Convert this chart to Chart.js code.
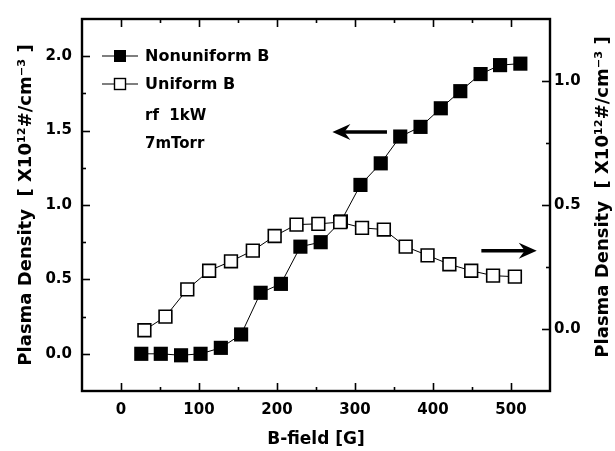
<!DOCTYPE html>
<html>
<head>
<meta charset="utf-8">
<script src="https://cdn.jsdelivr.net/npm/chart.js@4/dist/chart.umd.min.js"></script>
<style>
  html, body { margin: 0; padding: 0; background: #fff; }
</style>
</head>
<body>
<canvas id="density" width="615" height="451"></canvas>
<script>
// values
const bFieldNonuniform = [26, 51, 77, 102, 128, 154, 179, 205, 230, 256, 282, 307, 333, 358, 384, 410, 435, 461, 486, 512];
const densityNonuniform = [0.0, 0.0, -0.01, 0.0, 0.04, 0.13, 0.41, 0.47, 0.72, 0.75, 0.89, 1.135, 1.28, 1.46, 1.525, 1.65, 1.765, 1.88, 1.94, 1.95];
const bFieldUniform = [30, 57, 85, 113, 141, 169, 197, 225, 253, 281, 309, 337, 365, 393, 421, 449, 477, 505];
const densityUniform = [-0.005, 0.05, 0.16, 0.235, 0.273, 0.316, 0.375, 0.421, 0.424, 0.431, 0.408, 0.401, 0.332, 0.297, 0.261, 0.235, 0.215, 0.211];

const xTickLabels = [0, 100, 200, 300, 400, 500];
const leftTickLabels = [0.0, 0.5, 1.0, 1.5, 2.0];
const rightTickLabels = [0.0, 0.5, 1.0];

const seriesNames = ['Nonuniform B', 'Uniform B'];
const noteLines = ['rf  1kW', '7mTorr'];
const xTitle = 'B-field [G]';
const yTitle = 'Plasma Density  [ X10\u00B9\u00B2#/cm\u207B\u00B3 ]';

const FONT = '"DejaVu Sans", sans-serif';

const toPoints = (xs, ys) => xs.map((x, i) => ({ x: x, y: ys[i] }));
const near = (a, b) => Math.abs(a - b) < 1e-6;

// frame, inward ticks, legend, arrows and right title
const figurePlugin = {
  id: 'figure',
  afterDraw(chart) {
    const ctx = chart.ctx;
    const a = chart.chartArea;
    const sx = chart.scales.x, sy = chart.scales.y, sy2 = chart.scales.y2;
    ctx.save();
    ctx.strokeStyle = '#000';
    ctx.fillStyle = '#000';

    ctx.lineWidth = 1.6;
    sx.ticks.forEach(t => {
      if (t.value <= sx.min || t.value >= sx.max) return;
      const px = Math.round(sx.getPixelForValue(t.value)) + 0.5;
      const len = near(t.value % 100, 0) ? 8 : 4;
      ctx.beginPath();
      ctx.moveTo(px, a.bottom); ctx.lineTo(px, a.bottom - len);
      ctx.moveTo(px, a.top); ctx.lineTo(px, a.top + len);
      ctx.stroke();
    });
    sy.ticks.forEach(t => {
      if (t.value <= sy.min || t.value >= sy.max) return;
      const py = Math.round(sy.getPixelForValue(t.value)) + 0.5;
      const len = near(t.value * 2, Math.round(t.value * 2)) ? 8 : 4;
      ctx.beginPath();
      ctx.moveTo(a.left, py); ctx.lineTo(a.left + len, py);
      ctx.stroke();
    });
    sy2.ticks.forEach(t => {
      if (t.value <= sy2.min || t.value >= sy2.max) return;
      const py = Math.round(sy2.getPixelForValue(t.value)) + 0.5;
      const len = near(t.value * 2, Math.round(t.value * 2)) ? 8 : 4;
      ctx.beginPath();
      ctx.moveTo(a.right, py); ctx.lineTo(a.right - len, py);
      ctx.stroke();
    });

    ctx.lineWidth = 2.4;
    ctx.strokeRect(a.left, a.top, a.right - a.left, a.bottom - a.top);

    // legend
    const lx = a.left + 20, ly = a.top + 37;
    ctx.font = 'bold 16px ' + FONT;
    ctx.textBaseline = 'middle';
    ctx.textAlign = 'left';
    seriesNames.forEach((name, i) => {
      const y = ly + i * 28;
      ctx.lineWidth = 1.2;
      ctx.beginPath();
      ctx.moveTo(lx, y); ctx.lineTo(lx + 36, y);
      ctx.stroke();
      if (i === 0) {
        ctx.fillRect(lx + 12, y - 6, 12, 12);
      } else {
        ctx.fillStyle = '#fff';
        ctx.fillRect(lx + 12, y - 6, 12, 12);
        ctx.fillStyle = '#000';
        ctx.lineWidth = 1.4;
        ctx.strokeRect(lx + 12.5, y - 5.5, 11, 11);
      }
      ctx.fillText(name, lx + 43, y + 1);
    });
    ctx.font = 'bold 15px ' + FONT;
    noteLines.forEach((s, i) => ctx.fillText(s, lx + 43, a.top + 97 + i * 28));

    // arrows pointing to the axis each series belongs to
    const arrow = (x0, x1, y) => {
      const dir = x1 > x0 ? 1 : -1;
      ctx.lineWidth = 3.5;
      ctx.beginPath();
      ctx.moveTo(x0, y); ctx.lineTo(x1 - dir * 8, y);
      ctx.stroke();
      ctx.beginPath();
      ctx.moveTo(x1, y);
      ctx.lineTo(x1 - dir * 18, y - 8);
      ctx.lineTo(x1 - dir * 12, y);
      ctx.lineTo(x1 - dir * 18, y + 8);
      ctx.closePath();
      ctx.fill();
    };
    arrow(sx.getPixelForValue(341), sx.getPixelForValue(271), sy.getPixelForValue(1.49));
    arrow(sx.getPixelForValue(462), sx.getPixelForValue(533), sy2.getPixelForValue(0.316));

    // right axis title, reading bottom to top like the left one
    ctx.font = 'bold 18px ' + FONT;
    ctx.textAlign = 'center';
    ctx.translate(603, 197);
    ctx.rotate(-Math.PI / 2);
    ctx.fillText(yTitle, 0, 0);
    ctx.restore();
  }
};

const tickFont = { family: FONT, size: 15, weight: 'bold' };
const xTitleFont = { family: FONT, size: 17, weight: 'bold' };
const yTitleFont = { family: FONT, size: 18, weight: 'bold' };

new Chart(document.getElementById('density'), {
  type: 'line',
  data: {
    datasets: [
      {
        label: seriesNames[1],
        data: toPoints(bFieldUniform, densityUniform),
        yAxisID: 'y2',
        order: 0,
        borderColor: '#000',
        borderWidth: 1,
        pointStyle: 'rect',
        pointRadius: 9,
        pointBackgroundColor: '#fff',
        pointBorderColor: '#000',
        pointBorderWidth: 1.6,
        tension: 0
      },
      {
        label: seriesNames[0],
        data: toPoints(bFieldNonuniform, densityNonuniform),
        yAxisID: 'y',
        order: 1,
        borderColor: '#000',
        borderWidth: 1,
        pointStyle: 'rect',
        pointRadius: 10,
        pointBackgroundColor: '#000',
        pointBorderColor: '#000',
        pointBorderWidth: 0,
        tension: 0
      }
    ]
  },
  options: {
    responsive: false,
    animation: false,
    layout: { padding: { top: 15, left: 0, right: 0, bottom: 0 } },
    plugins: { legend: { display: false }, tooltip: { enabled: false } },
    scales: {
      x: {
        type: 'linear',
        min: -50,
        max: 550,
        grid: { display: false, drawTicks: false },
        border: { display: false },
        ticks: {
          stepSize: 50,
          autoSkip: false,
          maxRotation: 0,
          padding: 10,
          color: '#000',
          font: tickFont,
          callback: v => xTickLabels.some(t => near(t, v)) ? String(v) : ''
        },
        title: { display: true, text: xTitle, color: '#000', font: xTitleFont, padding: { top: 4, bottom: 1 } },
        afterFit: s => { s.height = 60; }
      },
      y: {
        type: 'linear',
        position: 'left',
        min: -0.25,
        max: 2.25,
        grid: { display: false, drawTicks: false },
        border: { display: false },
        ticks: {
          stepSize: 0.25,
          autoSkip: false,
          padding: 10,
          color: '#000',
          font: tickFont,
          callback: v => leftTickLabels.some(t => near(t, v)) ? v.toFixed(1) : ''
        },
        title: { display: true, text: yTitle, color: '#000', font: yTitleFont, padding: { top: 16, bottom: 0 } },
        afterFit: s => { s.width = 82; }
      },
      y2: {
        type: 'linear',
        position: 'right',
        min: -0.25,
        max: 1.25,
        grid: { display: false, drawTicks: false },
        border: { display: false },
        ticks: {
          stepSize: 0.25,
          autoSkip: false,
          padding: 4,
          color: '#000',
          font: tickFont,
          callback: v => rightTickLabels.some(t => near(t, v)) ? v.toFixed(1) : ''
        },
        afterFit: s => { s.width = 65; }
      }
    }
  },
  plugins: [figurePlugin]
});
</script>
</body>
</html>
